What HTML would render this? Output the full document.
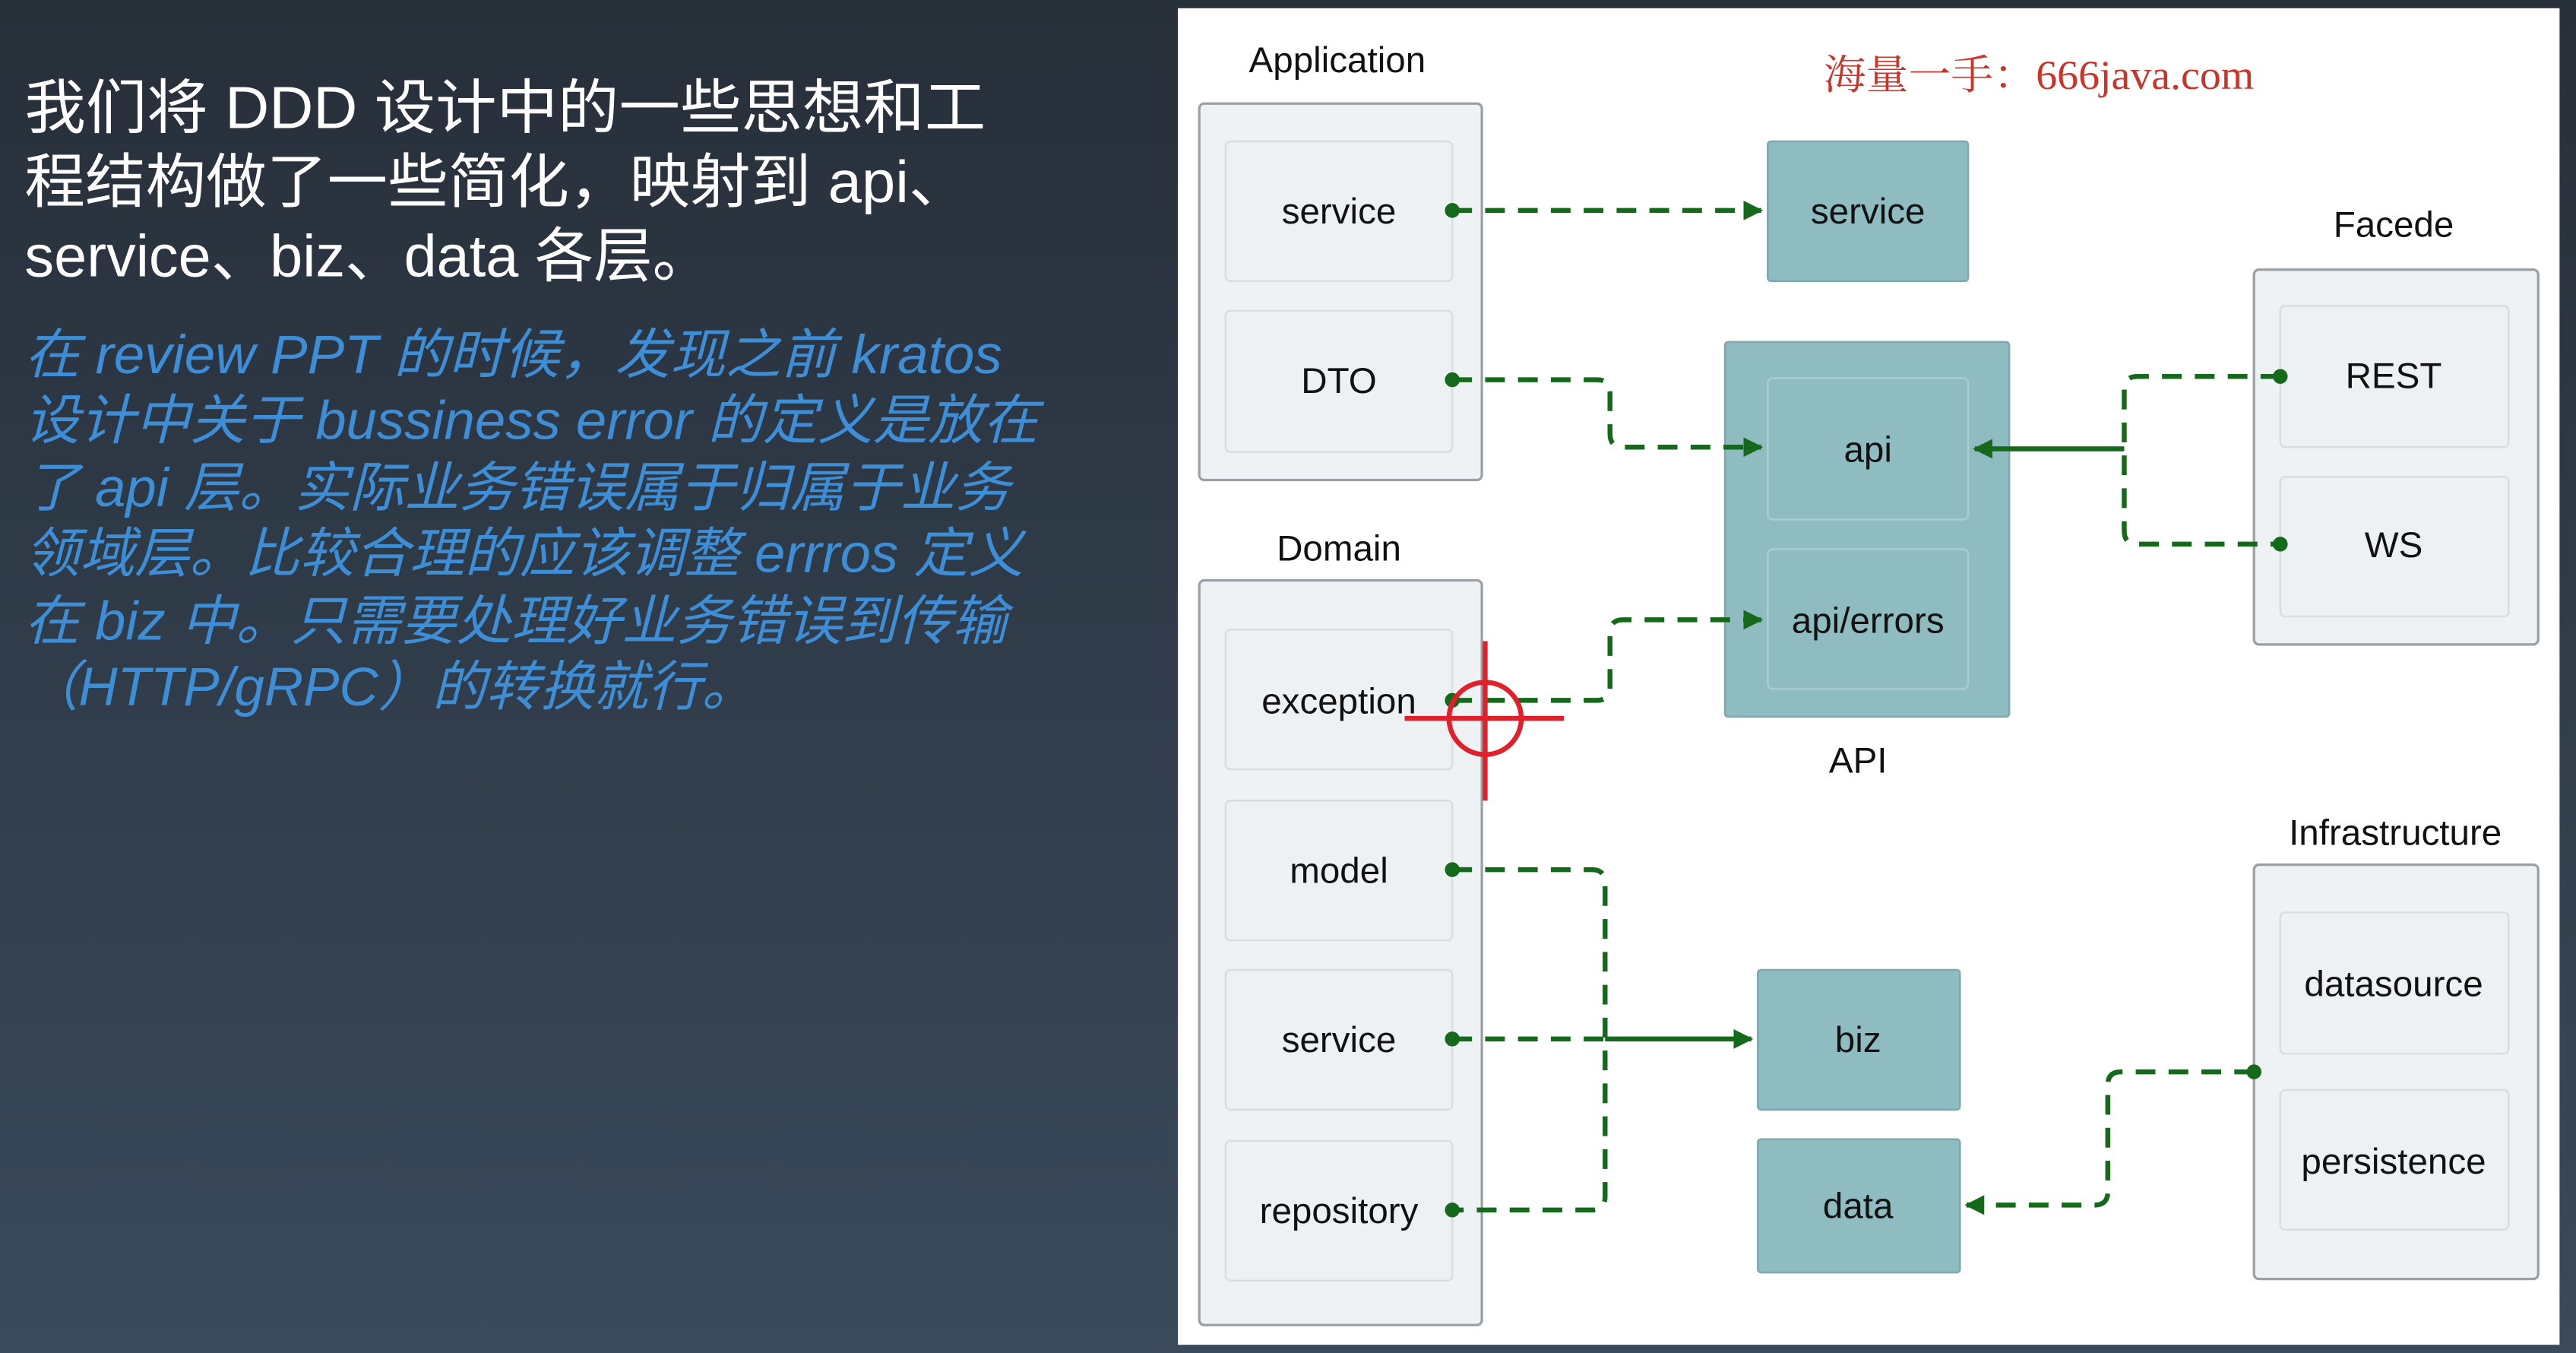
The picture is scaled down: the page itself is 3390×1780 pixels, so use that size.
<!DOCTYPE html>
<html><head><meta charset="utf-8"><style>
html,body{margin:0;padding:0;width:3390px;height:1780px;overflow:hidden;background:#2c3540}
svg{display:block}
</style></head><body>
<svg width="3390" height="1780" viewBox="0 0 1568 823" preserveAspectRatio="none" xmlns="http://www.w3.org/2000/svg">
<defs>
<linearGradient id="bg" x1="0" y1="0" x2="0" y2="1"><stop offset="0" stop-color="#272f39"/><stop offset="1" stop-color="#3a4a5b"/></linearGradient>
<marker id="ar" viewBox="0 0 10 10" refX="9" refY="5" markerWidth="4" markerHeight="4" orient="auto"><path d="M0,0L10,5L0,10z" fill="#15691a"/></marker>
</defs>
<rect x="0" y="0" width="1568" height="823" fill="url(#bg)"/>
<g font-family="Liberation Sans, Noto Sans CJK SC, sans-serif">
<g fill="#ffffff" font-size="36">
<text x="15" y="78" textLength="585" lengthAdjust="spacingAndGlyphs">我们将 DDD 设计中的一些思想和工</text>
<text x="15" y="123" textLength="575" lengthAdjust="spacingAndGlyphs">程结构做了一些简化，映射到 api、</text>
<text x="15" y="168" textLength="418" lengthAdjust="spacingAndGlyphs">service、biz、data 各层。</text>
</g>
<g fill="#3d8ed6" font-size="33" font-style="italic">
<text x="15" y="227" textLength="595" lengthAdjust="spacingAndGlyphs">在 review PPT 的时候，发现之前 kratos</text>
<text x="15" y="267" textLength="617" lengthAdjust="spacingAndGlyphs">设计中关于 bussiness error 的定义是放在</text>
<text x="15" y="308" textLength="600" lengthAdjust="spacingAndGlyphs">了 api 层。实际业务错误属于归属于业务</text>
<text x="15" y="348" textLength="608" lengthAdjust="spacingAndGlyphs">领域层。比较合理的应该调整 errros 定义</text>
<text x="15" y="389" textLength="598" lengthAdjust="spacingAndGlyphs">在 biz 中。只需要处理好业务错误到传输</text>
<text x="15" y="429" textLength="445" lengthAdjust="spacingAndGlyphs">（HTTP/gRPC）的转换就行。</text>
</g>
<rect x="717" y="5" width="841" height="813" fill="#ffffff"/>
<g font-size="22" fill="#111" text-anchor="middle">
<text x="814" y="44">Application</text>
<text x="815" y="341">Domain</text>
<text x="1131" y="470">API</text>
<text x="1457" y="144">Facede</text>
<text x="1458" y="514">Infrastructure</text>
</g>
<text x="1110" y="54" font-family="Liberation Serif, Noto Serif CJK SC, serif" font-size="25" fill="#c8352a" textLength="262" lengthAdjust="spacingAndGlyphs">海量一手：666java.com</text>
<g stroke="#9aa0a4" stroke-width="1.5" fill="#eef2f4">
<rect x="730" y="63" width="172" height="229" rx="3"/>
<rect x="730" y="353" width="172" height="453" rx="3"/>
<rect x="1372" y="164" width="173" height="228" rx="3"/>
<rect x="1372" y="526" width="173" height="252" rx="3"/>
</g>
<g stroke="#d8dfe2" stroke-width="1.2" fill="#edf1f3">
<rect x="746" y="86" width="138" height="85" rx="3"/>
<rect x="746" y="189" width="138" height="86" rx="3"/>
<rect x="746" y="383" width="138" height="85" rx="3"/>
<rect x="746" y="487" width="138" height="85" rx="3"/>
<rect x="746" y="590" width="138" height="85" rx="3"/>
<rect x="746" y="694" width="138" height="85" rx="3"/>
<rect x="1388" y="186" width="139" height="86" rx="3"/>
<rect x="1388" y="290" width="139" height="85" rx="3"/>
<rect x="1388" y="555" width="139" height="86" rx="3"/>
<rect x="1388" y="663" width="139" height="85" rx="3"/>
</g>
<g fill="#8fbcc0" stroke="#7fa9ad" stroke-width="1.2">
<rect x="1076" y="86" width="122" height="85" rx="2"/>
<rect x="1050" y="208" width="173" height="228" rx="2"/>
<rect x="1070" y="590" width="123" height="85" rx="2"/>
<rect x="1070" y="693" width="123" height="81" rx="2"/>
</g>
<g fill="#8fbcc0" stroke="#a8cdd0" stroke-width="1.2">
<rect x="1076" y="230" width="122" height="86" rx="3"/>
<rect x="1076" y="334" width="122" height="85" rx="3"/>
</g>
<g font-size="22" fill="#111" text-anchor="middle">
<text x="815" y="136">service</text>
<text x="815" y="239">DTO</text>
<text x="815" y="434">exception</text>
<text x="815" y="537">model</text>
<text x="815" y="640">service</text>
<text x="815" y="744">repository</text>
<text x="1137" y="136">service</text>
<text x="1137" y="281">api</text>
<text x="1137" y="385">api/errors</text>
<text x="1131" y="640">biz</text>
<text x="1131" y="741">data</text>
<text x="1457" y="236">REST</text>
<text x="1457" y="339">WS</text>
<text x="1457" y="606">datasource</text>
<text x="1457" y="714">persistence</text>
</g>
</g>
<g stroke="#15691a" stroke-width="3" fill="none" stroke-dasharray="12 8">
<path d="M884,128H1072" marker-end="url(#ar)"/>
<path d="M884,231H972Q980,231 980,239V264Q980,272 988,272H1072" marker-end="url(#ar)"/>
<path d="M884,426H972Q980,426 980,418V385Q980,377 988,377H1072" marker-end="url(#ar)"/>
<path d="M884,529H969Q977,529 977,537V728Q977,736 969,736H884"/>
<path d="M884,632H977"/>
<path d="M1388,229H1301Q1293,229 1293,237V323Q1293,331 1301,331H1388"/>
<path d="M1372,652H1291Q1283,652 1283,660V725Q1283,733 1275,733H1197" marker-end="url(#ar)"/>
</g>
<g stroke="#15691a" stroke-width="3" fill="none">
<path d="M977,632H1066" marker-end="url(#ar)"/>
<path d="M1293,273H1202" marker-end="url(#ar)"/>
</g>
<g fill="#15691a">
<circle cx="884" cy="128" r="4.5"/><circle cx="884" cy="231" r="4.5"/><circle cx="884" cy="426" r="4.5"/>
<circle cx="884" cy="529" r="4.5"/><circle cx="884" cy="632" r="4.5"/><circle cx="884" cy="736" r="4.5"/>
<circle cx="1388" cy="229" r="4.5"/><circle cx="1388" cy="331" r="4.5"/><circle cx="1372" cy="652" r="4.5"/>
</g>
<g stroke="#e0202a" stroke-width="3" fill="none">
<circle cx="904" cy="437" r="22"/>
<path d="M855,437H952M904,390V487"/>
</g>
</svg>
</body></html>
